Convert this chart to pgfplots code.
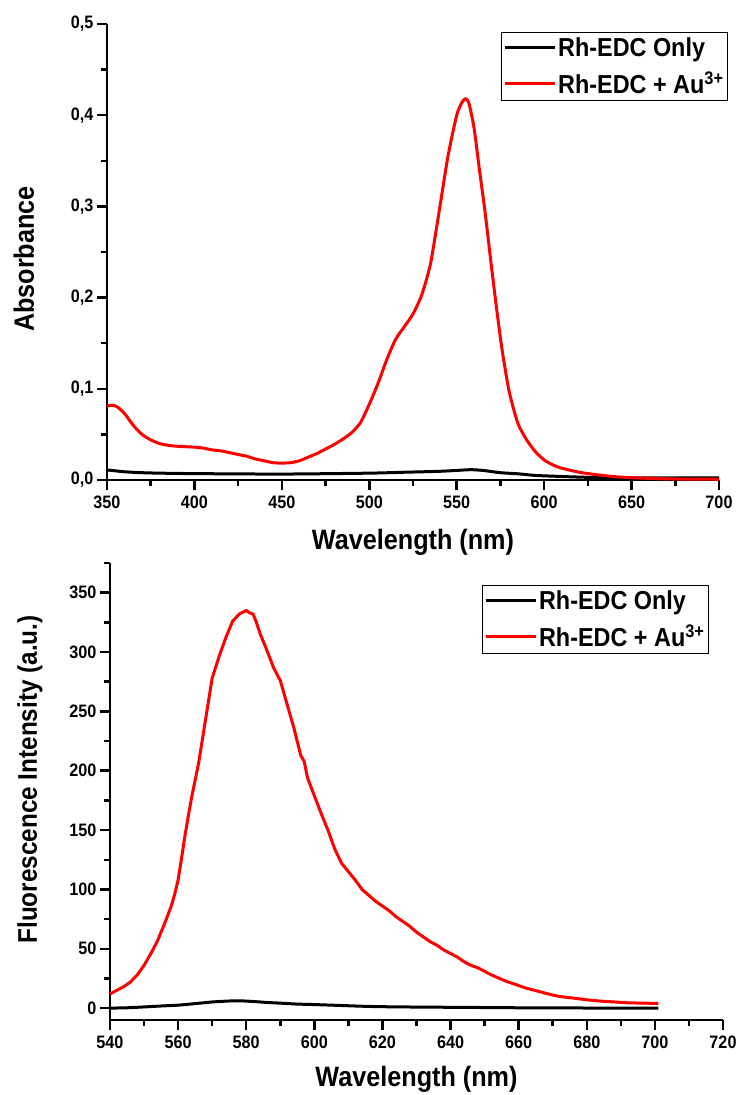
\documentclass[border=0pt]{standalone}
\usepackage{fontspec}
\setmainfont{Liberation Sans}[FakeStretch=0.9]
\usepackage{pgfplots}
\pgfplotsset{compat=1.18}

\pgfplotstableread{
x y
350 0.081
353 0.082
356 0.080
360 0.073
365 0.060
370 0.050
375 0.044
380 0.040
385 0.038
390 0.037
395 0.0365
400 0.036
405 0.035
410 0.033
415 0.032
420 0.030
425 0.028
430 0.026
435 0.023
440 0.021
445 0.019
450 0.0185
455 0.019
460 0.021
465 0.025
470 0.029
475 0.034
480 0.039
485 0.045
490 0.052
495 0.063
500 0.083
505 0.106
510 0.132
515 0.154
520 0.168
525 0.182
530 0.203
535 0.237
540 0.295
545 0.355
550 0.400
553 0.414
555 0.418
557 0.413
560 0.385
563 0.340
566 0.297
570 0.232
573 0.185
576 0.142
580 0.097
585 0.062
590 0.044
595 0.031
600 0.022
605 0.0165
610 0.013
620 0.0085
630 0.0058
640 0.0037
650 0.0025
660 0.0018
670 0.0013
680 0.0010
690 0.0009
700 0.0008
}\absred

\pgfplotstableread{
x y
350 0.011
355 0.010
360 0.009
370 0.008
380 0.0075
400 0.007
450 0.0065
500 0.0075
520 0.0085
540 0.0095
550 0.0105
558 0.0113
565 0.0105
575 0.008
585 0.0068
595 0.005
605 0.0042
615 0.0035
625 0.0029
640 0.0024
660 0.0022
700 0.0022
}\absblack

\pgfplotstableread{
x y
540 12
542 15
544 18
546 22
548 28
550 36
552 46
554 57
556 71
558 86
559 96
560 108
561 126
562 145
563 162
564 178
566 206
568 242
570 278
572 296
574 312
576 326
578 332
580 335
581 333
582 332
583 325
584 316
586 302
588 287
590 276
592 256
594 236
596 213
597 208
598 194
600 179
602 164
604 150
606 134
608 122
610 115
612 108
614 100
616 95
618 90
620 86
622 82
624 77
626 73
628 69
630 64
632 60
634 56
636 53
638 49
640 46
642 43
644 39
646 36
648 34
650 31
652 28
654 25.5
656 23
658 21
660 19
662 17
664 15.5
666 14
668 12.5
670 11
672 9.8
676 8.5
680 7
684 5.9
688 5.2
692 4.5
696 4.2
701 4
}\flred

\pgfplotstableread{
x y
540 0
545 0.3
550 1
555 1.8
560 2.5
565 3.8
570 5.2
575 6
578 6.2
582 5.6
586 4.8
590 4.2
595 3.4
600 3
605 2.5
610 2
615 1.5
620 1.2
630 0.9
640 0.7
650 0.5
660 0.3
680 0.1
701 0
}\flblack

\pgfplotsset{
  myax/.style={
    scale only axis,
    axis x line*=bottom, axis y line*=left,
    axis line style={line width=2.8pt},
    tick align=outside,
    major tick length=10pt, minor tick length=6pt,
    every tick/.append style={line width=2.5pt, black},
    tick label style={font=\bfseries\fontsize{18}{18}\selectfont},
    xticklabel shift=2pt,
    /pgf/number format/assume math mode=true,
    label style={font=\bfseries\fontsize{28}{28}\selectfont},
    xlabel shift=14pt,
    ylabel shift=30pt,
    legend style={draw=black, line width=0.8pt, font=\bfseries\fontsize{26}{26}\selectfont,
      inner xsep=2pt, inner ysep=3pt, row sep=10pt},
    legend cell align=left,
    legend image code/.code={\draw[#1] (0pt,0pt) -- (50pt,0pt);},
    clip=false,
  }
}

\begin{document}
\begin{tikzpicture}[x=1pt,y=1pt]
\path[use as bounding box] (0,0) rectangle (740,1095);

\begin{axis}[myax,
  at={(107pt,615pt)}, anchor=south west,
  width=612pt, height=456pt,
  xmin=350, xmax=700, ymin=0, ymax=0.5,
  xtick={350,400,...,700},
  minor xtick={375,425,...,675},
  ytick={0,0.1,...,0.5},
  minor ytick={0.05,0.15,0.25,0.35,0.45},
  yticklabel style={/pgf/number format/.cd, fixed, fixed zerofill, precision=1, use comma},
  xlabel={Wavelength (nm)},
  ylabel={Absorbance},
  ylabel style={xshift=-7pt},
  legend style={at={(1.0147,0.982)}, anchor=north east},
]
\addplot[black, line width=3pt, smooth, tension=0.4] table {\absblack};
\addlegendentry{Rh-EDC Only}
\addplot[red, line width=3pt, smooth, tension=0.4] table {\absred};
\addlegendentry{Rh-EDC + Au\textsuperscript{3+}}
\end{axis}

\begin{axis}[myax,
  at={(110pt,75pt)}, anchor=south west,
  width=613pt, height=457pt,
  xmin=540, xmax=720, ymin=-10, ymax=375,
  xtick={540,560,...,720},
  minor xtick={550,570,...,710},
  ytick={0,50,...,350},
  minor ytick={25,75,...,375},
  xlabel={Wavelength (nm)},
  xlabel shift=11pt,
  ylabel={Fluorescence Intensity (a.u.)},
  ylabel shift=20pt,
  ylabel style={font=\bfseries\fontsize{27}{27}\selectfont, xshift=12pt},
  legend style={at={(0.977,0.952)}, anchor=north east},
]
\addplot[black, line width=3pt, smooth, tension=0.3] table {\flblack};
\addlegendentry{Rh-EDC Only}
\addplot[red, line width=3pt] table {\flred};
\addlegendentry{Rh-EDC + Au\textsuperscript{3+}}
\end{axis}
\end{tikzpicture}
\end{document}
